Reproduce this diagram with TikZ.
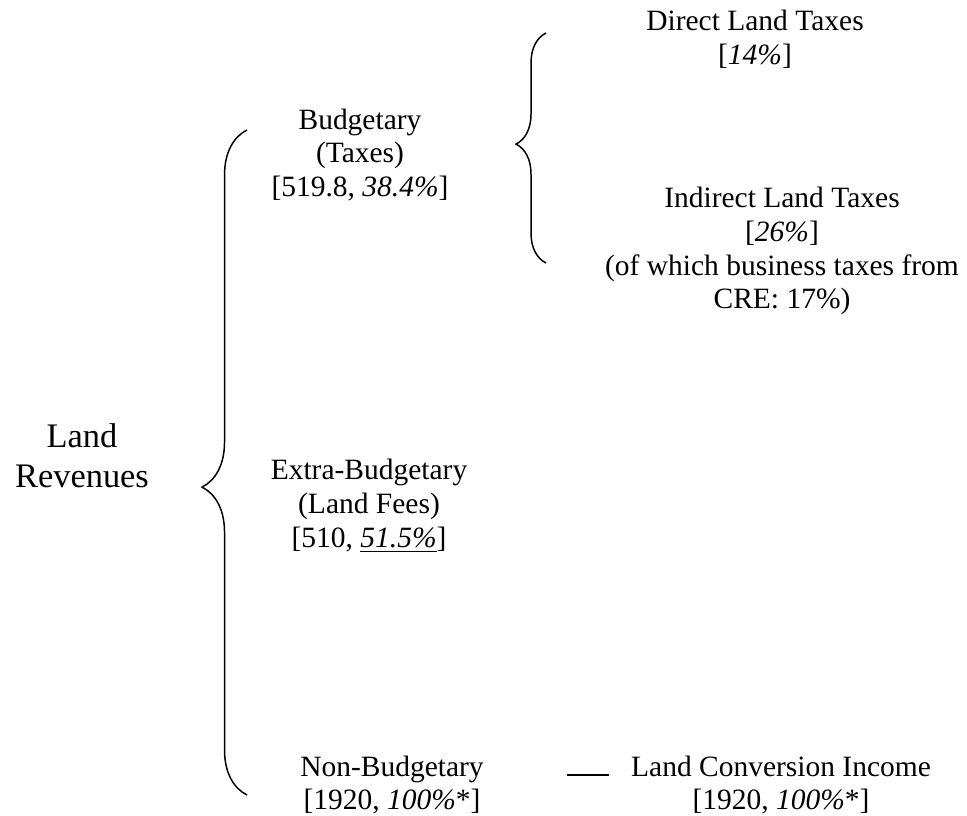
\documentclass[tikz,border=0pt]{standalone}
\usepackage{fontspec}
\setmainfont{Liberation Serif}
\usetikzlibrary{decorations.pathreplacing}

\tikzset{
    item/.style={align=center, inner sep=0pt, font=\fontsize{12}{13.8}\selectfont},
    rootitem/.style={align=center, inner sep=0pt, font=\fontsize{14}{16.1}\selectfont},
    bigbrace/.style={line width=0.6pt, decorate, decoration={brace, amplitude=18.3pt, aspect=0.463}},
    smallbrace/.style={line width=0.6pt, decorate, decoration={brace, amplitude=12.2pt, aspect=0.517}}
}

\begin{document}
\begin{tikzpicture}[x=0.407pt, y=-0.407pt]
    % Fix the page size
    \useasboundingbox (0,0) rectangle (967,816);

    % Root
    \node[rootitem] (land) at (82,456) {Land\\Revenues};

    % First level
    \node[item] (budget) at (360,155) {Budgetary\\(Taxes)\\{[}519.8, \textit{38.4\%}]};
    \node[item] (extra) at (369,506) {Extra-Budgetary\\(Land Fees)\\{[}510, \underline{\textit{51.5\%}}]};
    \node[item] (nonbudget) at (392,785) {Non-Budgetary\\{[}1920, \textit{100\%}*]};

    % Second level
    \node[item] (direct) at (755,39) {Direct Land Taxes\\{[}\textit{14\%}]};
    \node[item] (indirect) at (782,251) {Indirect Land Taxes\\{[}\textit{26\%}]\\(of which business taxes from\\CRE: 17\%)};
    \node[item] (conversion) at (781,785) {Land Conversion Income\\{[}1920, \textit{100\%}*]};

    % Brace ends
    \coordinate (bigbot) at (247,795);
    \coordinate (bigtop) at (247,130);
    \coordinate (smallbot) at (546,263);
    \coordinate (smalltop) at (546,33);
    \coordinate (dashA) at (567,775);
    \coordinate (dashB) at (609,775);

    % Draw the braces
    \draw[bigbrace] (bigbot) -- (bigtop);
    \draw[smallbrace] (smallbot) -- (smalltop);

    % Draw the dash
    \draw[line width=0.8pt] (dashA) -- (dashB);
\end{tikzpicture}
\end{document}
